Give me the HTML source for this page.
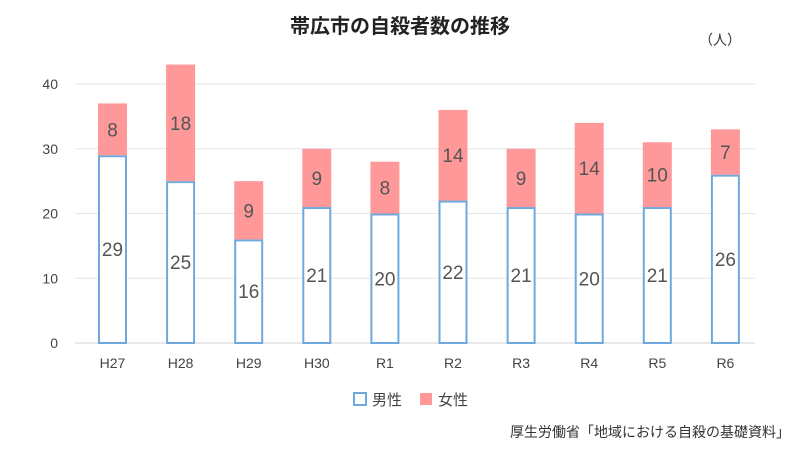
<!DOCTYPE html>
<html><head><meta charset="utf-8"><style>
body{margin:0;background:#fff;}
svg text{font-family:"Liberation Sans","Noto Sans CJK JP",sans-serif;}
</style></head><body>
<svg width="800" height="450">
<text x="400" y="33" text-anchor="middle" font-size="20" font-weight="bold" fill="#222">帯広市の自殺者数の推移</text>
<text x="720" y="45" text-anchor="middle" font-size="14" fill="#333">（人）</text>
<g id="grid"></g><g id="bars"></g><g id="labels"></g>
<g>
<rect x="354" y="393" width="12" height="12" fill="#fff" stroke="#6fa8dc" stroke-width="2"/>
<text x="372" y="405" font-size="15" fill="#444">男性</text>
<rect x="420" y="393" width="12" height="12" fill="#ff9999"/>
<text x="438" y="405" font-size="15" fill="#444">女性</text>
</g>
<text x="790" y="437" text-anchor="end" font-size="14" fill="#333">厚生労働省「地域における自殺の基礎資料」</text>
</svg>
<script>
const categories=["H27","H28","H29","H30","R1","R2","R3","R4","R5","R6"];
const male=[29,25,16,21,20,22,21,20,21,26];
const female=[8,18,9,9,8,14,9,14,10,7];
const yTicks=[0,10,20,30,40];
const NS="http://www.w3.org/2000/svg";
const y=v=>343-v*6.475;
const x=i=>112.5+i*68.1;
const bw=29;
function mk(t,a,p){const e=document.createElementNS(NS,t);for(const k in a)e.setAttribute(k,a[k]);p.appendChild(e);return e;}
const g=document.getElementById('grid'),b=document.getElementById('bars'),l=document.getElementById('labels');
yTicks.forEach(v=>{
 const ln=mk('line',{x1:75,x2:755,y1:y(v),y2:y(v),stroke:v===0?'#d0d0d0':'#e6e6e6','stroke-width':1},g);
 
 
 const t=mk('text',{x:58,y:y(v)+5,'text-anchor':'end','font-size':14,fill:'#444'},g);t.textContent=v;
 
 
});
categories.forEach((c,i)=>{
 const cx=x(i);
 const m=mk('rect',{x:cx-bw/2+1,y:y(male[i])+1,width:bw-2,height:y(0)-y(male[i])-1,fill:'#fff',stroke:'#6fa8dc','stroke-width':2},b);
 
 
 const f=mk('rect',{x:cx-bw/2,y:y(male[i]+female[i]),width:bw,height:y(male[i])-y(male[i]+female[i]),fill:'#ff9999'},b);
 
 
 const t1=mk('text',{x:cx,y:(y(0)+y(male[i]))/2+7,'text-anchor':'middle','font-size':19,fill:'#555'},l);t1.textContent=male[i];
 
 
 const t2=mk('text',{x:cx,y:(y(male[i])+y(male[i]+female[i]))/2+7,'text-anchor':'middle','font-size':19,fill:'#555'},l);t2.textContent=female[i];
 
 
 const t3=mk('text',{x:cx,y:368,'text-anchor':'middle','font-size':14,fill:'#444'},l);t3.textContent=c;
 
 
});
</script>
</body></html>
